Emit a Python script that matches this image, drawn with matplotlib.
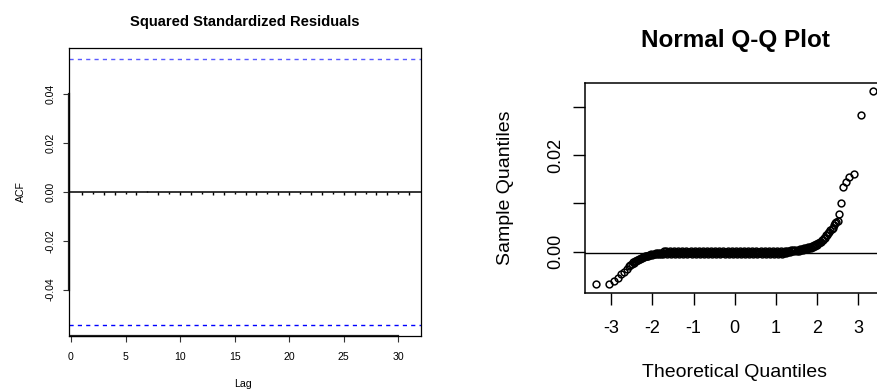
import matplotlib
matplotlib.use("Agg")
import matplotlib.pyplot as plt
import numpy as np

plt.rcParams['font.family'] = ['Liberation Sans', 'DejaVu Sans']

# ---------------- data: left panel (ACF of squared standardized residuals)
acf_lags = list(range(1, 32))
acf_values = [-0.0012, -0.0011, -0.0012, -0.0012, -0.0011, -0.0012, 0.0004,
              -0.0012, -0.0011, -0.0012, -0.0012, -0.0011, -0.0012, -0.0012,
              -0.0011, -0.0012, -0.0012, -0.0011, -0.0012, -0.0012, -0.0011,
              -0.0012, -0.0012, -0.0011, -0.0012, -0.0012, -0.0011, -0.0012,
              -0.0012, -0.0011, -0.0012]
acf_conf_level = 0.0544
acf_xticks = [0, 5, 10, 15, 20, 25, 30]
acf_yticks = [-0.04, -0.02, 0.00, 0.02, 0.04]
acf_yticklabels = ['-0.04', '-0.02', '0.00', '0.02', '0.04']

# ---------------- data: right panel (Normal Q-Q plot), sample in units of 1e-3
qq_theoretical = [
    # sparse lower tail
    -3.37, -3.06, -2.93, -2.84, -2.76, -2.69, -2.63, -2.58, -2.54,
    # dense body
    -2.500, -2.475, -2.450, -2.425, -2.400, -2.375, -2.350, -2.325, -2.300, -2.275,
    -2.250, -2.225, -2.200, -2.175, -2.150, -2.125, -2.100, -2.075, -2.050, -2.025,
    -2.000, -1.975, -1.950, -1.925, -1.900, -1.875, -1.850, -1.825, -1.800, -1.775,
    -1.750, -1.725, -1.700, -1.675, -1.650, -1.625, -1.600, -1.575, -1.550, -1.525,
    -1.500, -1.475, -1.450, -1.425, -1.400, -1.375, -1.350, -1.325, -1.300, -1.275,
    -1.250, -1.225, -1.200, -1.175, -1.150, -1.125, -1.100, -1.075, -1.050, -1.025,
    -1.000, -0.975, -0.950, -0.925, -0.900, -0.875, -0.850, -0.825, -0.800, -0.775,
    -0.750, -0.725, -0.700, -0.675, -0.650, -0.625, -0.600, -0.575, -0.550, -0.525,
    -0.500, -0.475, -0.450, -0.425, -0.400, -0.375, -0.350, -0.325, -0.300, -0.275,
    -0.250, -0.225, -0.200, -0.175, -0.150, -0.125, -0.100, -0.075, -0.050, -0.025,
    0.000, 0.025, 0.050, 0.075, 0.100, 0.125, 0.150, 0.175, 0.200, 0.225,
    0.250, 0.275, 0.300, 0.325, 0.350, 0.375, 0.400, 0.425, 0.450, 0.475,
    0.500, 0.525, 0.550, 0.575, 0.600, 0.625, 0.650, 0.675, 0.700, 0.725,
    0.750, 0.775, 0.800, 0.825, 0.850, 0.875, 0.900, 0.925, 0.950, 0.975,
    1.000, 1.025, 1.050, 1.075, 1.100, 1.125, 1.150, 1.175, 1.200, 1.225,
    1.250, 1.275, 1.300, 1.325, 1.350, 1.375, 1.400, 1.425, 1.450, 1.475,
    1.500, 1.525, 1.550, 1.575, 1.600, 1.625, 1.650, 1.675, 1.700, 1.725,
    1.750, 1.775, 1.800, 1.825, 1.850, 1.875, 1.900, 1.925, 1.950, 1.975,
    2.000, 2.025, 2.050, 2.075, 2.100, 2.125, 2.150, 2.175, 2.200, 2.225,
    2.250, 2.275, 2.300, 2.325,
    # sparse upper tail
    2.35, 2.38, 2.41, 2.44, 2.47, 2.50, 2.54, 2.58, 2.63, 2.70,
    2.78, 2.89, 3.06, 3.37]
qq_sample_e3 = [
    -6.8, -6.6, -6.0, -5.4, -4.7, -4.2, -3.5, -3.0, -2.7,
    -2.5, -2.2, -2.25, -1.95, -2.0, -1.75, -1.8, -1.55, -1.6, -1.35,
    -1.4, -1.15, -1.2, -0.95, -1.0, -0.8, -0.85, -0.65, -0.75, -0.55,
    -0.65, -0.45, -0.55, -0.35, -0.5, -0.3, -0.45, -0.25, -0.4, -0.2,
    -0.45, 0.05, -0.25, 0.1, -0.45, -0.05, -0.3, 0.05, -0.4, -0.1,
    -0.2, 0.1, -0.45, 0.0, -0.3, 0.05, -0.4, -0.1, -0.25, 0.1,
    -0.45, 0.0, -0.3, 0.05, -0.4, -0.1, -0.25, 0.1, -0.45, 0.0,
    -0.3, 0.05, -0.4, -0.1, -0.25, 0.1, -0.45, 0.0, -0.3, 0.05,
    -0.4, -0.1, -0.25, 0.1, -0.45, 0.0, -0.3, 0.05, -0.4, -0.1,
    -0.25, 0.1, -0.45, 0.0, -0.3, 0.05, -0.4, -0.1, -0.25, 0.1,
    -0.45, 0.0, -0.3, 0.05, -0.4, -0.1, -0.25, 0.1, -0.45, 0.0,
    -0.3, 0.05, -0.4, -0.1, -0.25, 0.1, -0.45, 0.0, -0.3, 0.05,
    -0.4, -0.1, -0.25, 0.1, -0.45, 0.0, -0.3, 0.05, -0.4, -0.1,
    -0.25, 0.1, -0.45, 0.0, -0.3, 0.05, -0.4, -0.1, -0.25, 0.1,
    -0.45, 0.0, -0.3, 0.05, -0.4, -0.1, -0.25, 0.1, -0.45, 0.0,
    -0.3, 0.05, -0.4, -0.1, -0.25, 0.1, -0.45, 0.0, -0.3, 0.1,
    -0.2, 0.1, -0.1, 0.2, 0.0, 0.25, 0.05, 0.3, 0.1, 0.35,
    0.15, 0.4, 0.2, 0.5, 0.3, 0.6, 0.35, 0.7, 0.45, 0.8,
    0.55, 0.9, 0.7, 1.05, 0.85, 1.2, 1.0, 1.35, 1.2, 1.55,
    1.45, 1.8, 1.7, 2.1, 2.0, 2.45, 2.4, 2.85, 2.9, 3.35,
    3.5, 3.95, 4.1, 4.5,
    4.7, 5.0, 5.5, 5.9, 6.1, 6.4, 7.9, 10.0, 13.4, 14.5,
    15.5, 16.1, 28.3, 33.3]
qq_line_level_e3 = -0.2
qq_xticks = [-3, -2, -1, 0, 1, 2, 3]
qq_xticklabels = ['-3', '-2', '-1', '0', '1', '2', '3']
qq_yticks = [0.00, 0.01, 0.02, 0.03]
qq_yticklabels = ['0.00', '', '0.02', '']

# ---------------- layout helpers (pixel based)
W, H = 877, 390
fig = plt.figure(figsize=(W / 100, H / 100), dpi=100)


def rect(l, t, r, b):
    return [l / W, 1 - b / H, (r - l) / W, (b - t) / H]


def ftext(x, y, s, **kw):
    fig.text(x / W, 1 - y / H, s, ha='center', va='center', **kw)


# ---------------- left panel
ax1 = fig.add_axes(rect(69, 48, 421, 336))
ax1.axhline(0, color='black', lw=1.1)
ax1.vlines(acf_lags, 0, acf_values, color='black', lw=1.0)
ax1.axhline(acf_conf_level, color='#5a5aff', lw=1.0, ls=(0, (3, 3)))
ax1.axhline(-acf_conf_level, color='#0000ff', lw=1.0, ls=(0, (3, 3)))
ax1.set_xlim(-0.18, 32.08)
ax1.set_ylim(-0.059, 0.0588)
ax1.set_xticks(acf_xticks)
ax1.set_xticklabels([str(v) for v in acf_xticks])
ax1.set_yticks(acf_yticks)
ax1.set_yticklabels(acf_yticklabels, rotation=90, va='center')
ax1.tick_params(direction='out', length=4.5, width=0.8, labelsize=7.6, color='#333333')
ax1.tick_params(axis='x', pad=7)
ax1.tick_params(axis='y', pad=5)
for s in ax1.spines.values():
    s.set_linewidth(0.9)
# R-style axis lines spanning first to last tick
ax1.plot([acf_xticks[0], acf_xticks[-1]], [-0.059, -0.059], color='#222222', lw=1.6, clip_on=False)
ax1.plot([-0.18, -0.18], [acf_yticks[0], acf_yticks[-1]], color='#222222', lw=1.6, clip_on=False)

ftext(245, 21.7, 'Squared Standardized Residuals', fontsize=10.6, fontweight='bold')
ftext(243, 384, 'Lag', fontsize=7.6)
ftext(21, 192, 'ACF', fontsize=7.6, rotation=90)

# ---------------- right panel
ax2 = fig.add_axes(rect(585, 82.7, 885, 292.7))
qq_sample = np.array(qq_sample_e3) * 1e-3
ax2.axhline(qq_line_level_e3 * 1e-3, color='black', lw=1.0)
ax2.plot(qq_theoretical, qq_sample, 'o', mfc='none', mec='black', ms=4.9, mew=1.1)
ax2.set_xlim(-3.64, 3.65)
ax2.set_ylim(-0.0085, 0.035)
ax2.set_xticks(qq_xticks)
ax2.set_xticklabels(qq_xticklabels)
ax2.set_yticks(qq_yticks)
ax2.set_yticklabels(qq_yticklabels, rotation=90, va='center')
ax2.tick_params(direction='out', length=8.6, width=1.0, labelsize=13)
ax2.tick_params(axis='x', pad=11)
ax2.tick_params(axis='y', pad=6)
for s in ax2.spines.values():
    s.set_linewidth(1.1)

ftext(735, 40, 'Normal Q-Q Plot', fontsize=17.5, fontweight='bold')
ftext(735, 372.7, 'Theoretical Quantiles', fontsize=14)
ftext(505, 187.7, 'Sample Quantiles', fontsize=14, rotation=90)

fig.savefig('out.png', dpi=100)
